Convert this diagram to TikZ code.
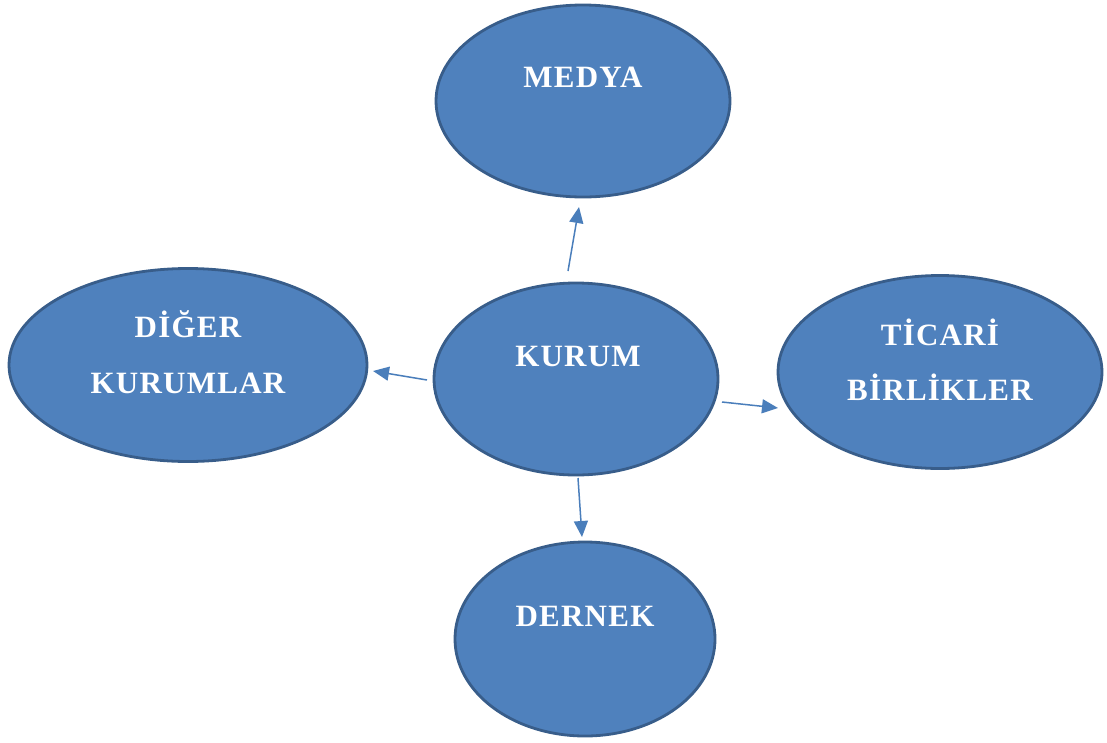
\documentclass[tikz,border=0pt]{standalone}
\usepackage{fontspec}
\setmainfont{Liberation Serif}
\newfontfamily\labelfont[LetterSpace=4]{Liberation Serif}
\usetikzlibrary{arrows.meta,shapes.geometric}
\definecolor{bubblefill}{HTML}{4F81BD}
\definecolor{bubbleline}{HTML}{385D8A}
\definecolor{linkblue}{HTML}{4A7EBB}
\tikzset{
  bubble/.style={ellipse, draw=bubbleline, line width=2.8pt, fill=bubblefill, inner sep=0pt},
  lbl/.style={text=white, font=\labelfont\fontsize{31}{56}\selectfont\bfseries, align=center, anchor=base},
  link/.style={draw=linkblue, line width=1.5pt, -{Triangle[length=16pt,width=14pt]}}
}
\begin{document}
\begin{tikzpicture}[x=1pt,y=-1pt]
  \useasboundingbox (0,0) rectangle (1107,742);
  % ellipses
  \node[bubble, minimum width=294pt, minimum height=192pt] (medya) at (583,101) {};
  \node[bubble, minimum width=358pt, minimum height=193pt] (diger) at (188,365) {};
  \node[bubble, minimum width=284pt, minimum height=192pt] (kurum) at (576,379) {};
  \node[bubble, minimum width=324pt, minimum height=193pt] (ticari) at (940,372) {};
  \node[bubble, minimum width=260pt, minimum height=194pt] (dernek) at (585,639) {};
  % labels
  \node[lbl] (tmedya) at (583,87) {MEDYA};
  \node[lbl] (tkurum) at (578,366) {KURUM};
  \node[lbl] (tdiger1) at (188,337) {DİĞER};
  \node[lbl] (tdiger2) at (188,393) {KURUMLAR};
  \node[lbl] (tticari1) at (940,345) {TİCARİ};
  \node[lbl] (tticari2) at (940,400) {BİRLİKLER};
  \node[lbl] (tdernek) at (585,626) {DERNEK};
  % arrow ends
  \coordinate (k-up) at (568,271);
  \coordinate (m-in) at (579,207);
  \coordinate (k-left) at (427,380);
  \coordinate (d-in) at (373,371);
  \coordinate (k-right) at (722,402);
  \coordinate (t-in) at (778,408);
  \coordinate (k-down) at (578,478);
  \coordinate (e-in) at (582,537);
  \draw[link] (k-up) -- (m-in);
  \draw[link] (k-left) -- (d-in);
  \draw[link] (k-right) -- (t-in);
  \draw[link] (k-down) -- (e-in);
\end{tikzpicture}
\end{document}
